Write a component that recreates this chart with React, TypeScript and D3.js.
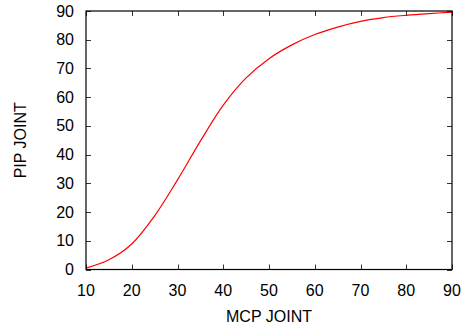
import React, { useEffect, useRef } from "react";
import * as d3 from "d3";

// MCP joint angle (x) vs PIP joint angle (y)
const mcpAngles = [10, 15, 20, 25, 30, 35, 40, 45, 50, 55, 60, 65, 70, 75, 80, 85, 90];
const pipAngles = [0.5, 3.4, 8.9, 18.7, 31.2, 44.7, 57.2, 66.7, 73.4, 78.2, 81.8, 84.4, 86.4, 87.7, 88.5, 89.1, 89.6];

const xTicks = [10, 20, 30, 40, 50, 60, 70, 80, 90];
const yTicks = [0, 10, 20, 30, 40, 50, 60, 70, 80, 90];

export default function App() {
  const ref = useRef<SVGSVGElement>(null);

  useEffect(() => {
    const width = 467;
    const height = 331;
    const margin = { top: 11, right: 15, bottom: 61.5, left: 86 };
    const font = "'Liberation Sans', Arial, Helvetica, sans-serif";

    const svg = d3.select(ref.current);
    svg.selectAll("*").remove();

    const x = d3.scaleLinear().domain([10, 90]).range([margin.left, width - margin.right]);
    const y = d3.scaleLinear().domain([0, 90]).range([height - margin.bottom, margin.top]);

    const data = mcpAngles.map((m, i) => ({ m, p: pipAngles[i] }));
    const tick = 5;
    const x0 = x.range()[0], x1 = x.range()[1];
    const y0 = y.range()[0], y1 = y.range()[1];

    // ticks on all four sides, pointing inward
    const ticks = svg.append("g").attr("stroke", "#333").attr("stroke-width", 1);
    xTicks.forEach((t) => {
      const px = Math.round(x(t)) + 0.5;
      ticks.append("line").attr("x1", px).attr("x2", px).attr("y1", y0).attr("y2", y0 - tick);
      ticks.append("line").attr("x1", px).attr("x2", px).attr("y1", y1).attr("y2", y1 + tick);
    });
    yTicks.forEach((t) => {
      const py = Math.round(y(t)) + 0.5;
      ticks.append("line").attr("x1", x0).attr("x2", x0 + tick).attr("y1", py).attr("y2", py);
      ticks.append("line").attr("x1", x1).attr("x2", x1 - tick).attr("y1", py).attr("y2", py);
    });

    svg
      .append("path")
      .datum(data)
      .attr("fill", "none")
      .attr("stroke", "#ff0000")
      .attr("stroke-width", 1.2)
      .attr(
        "d",
        d3
          .line<{ m: number; p: number }>()
          .x((d) => x(d.m))
          .y((d) => y(d.p))
          .curve(d3.curveCatmullRom.alpha(0.5))
      );

    svg
      .append("rect")
      .attr("x", x0)
      .attr("y", y1)
      .attr("width", x1 - x0)
      .attr("height", y0 - y1)
      .attr("fill", "none")
      .attr("stroke", "#000")
      .attr("stroke-width", 1.2);

    const labels = svg.append("g").attr("font-family", font).attr("font-size", 16).attr("fill", "#000");
    xTicks.forEach((t) => {
      labels.append("text").attr("x", x(t)).attr("y", y0 + 26).attr("text-anchor", "middle").text(t);
    });
    yTicks.forEach((t) => {
      labels
        .append("text")
        .attr("x", x0 - 12)
        .attr("y", y(t))
        .attr("dy", "0.35em")
        .attr("text-anchor", "end")
        .text(t);
    });

    labels
      .append("text")
      .attr("x", (x0 + x1) / 2)
      .attr("y", 322)
      .attr("text-anchor", "middle")
      .text("MCP JOINT");

    labels
      .append("text")
      .attr("transform", `translate(26,${(y0 + y1) / 2}) rotate(-90)`)
      .attr("text-anchor", "middle")
      .text("PIP JOINT");
  }, []);

  return (
    <svg
      ref={ref}
      width={467}
      height={331}
      style={{ position: "absolute", left: 0, top: 0, background: "#fff" }}
    />
  );
}
